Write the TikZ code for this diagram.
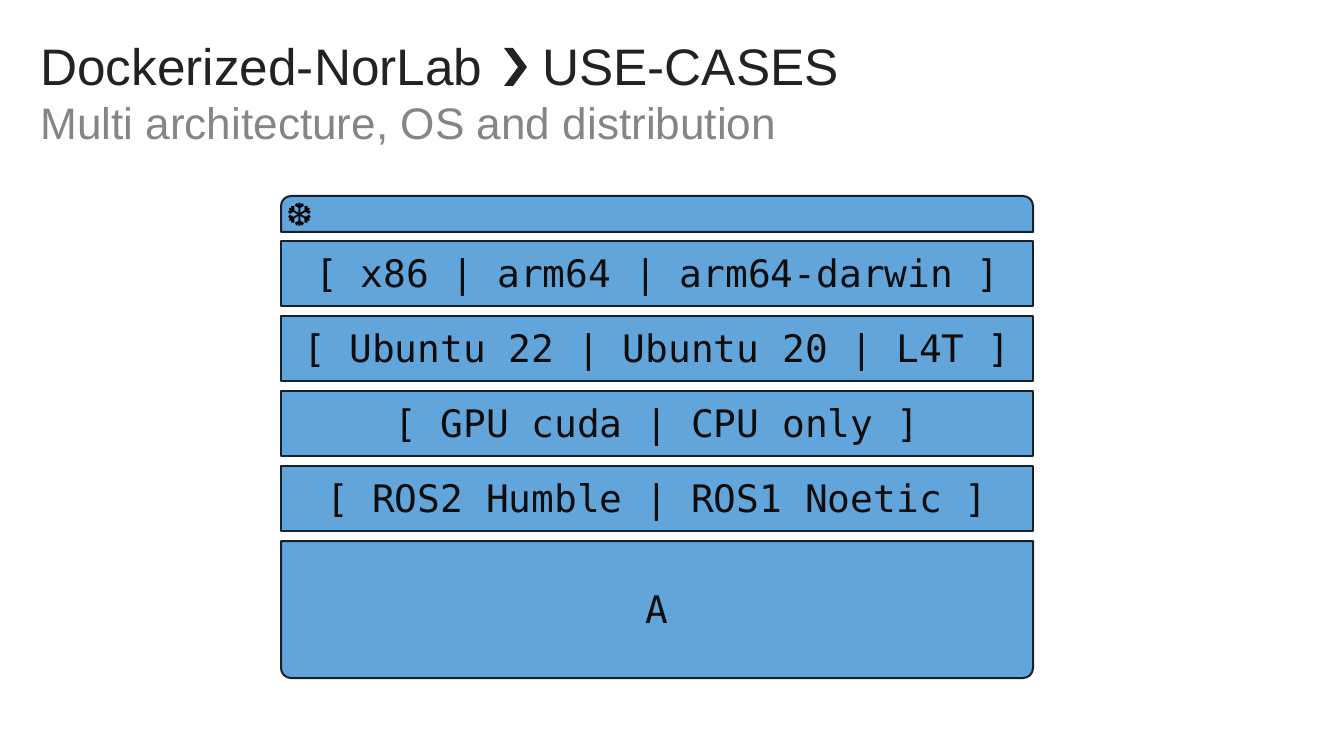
\documentclass[tikz,border=0pt]{standalone}
\usepackage{fontspec}
\setmainfont{Liberation Sans}
\newfontfamily\monof{DejaVu Sans Mono}
\newfontfamily\symf{DejaVu Sans}
\definecolor{layerblue}{HTML}{62A5DB}
\definecolor{edgeink}{HTML}{14202C}
\definecolor{titleink}{HTML}{222222}
\definecolor{subink}{HTML}{858585}
\tikzset{
  layer/.style={fill=layerblue,draw=edgeink,line width=1.5pt,line join=round},
  layertext/.style={inner sep=0pt,anchor=center,text=black!95,font=\monof\fontsize{28.4}{30}\selectfont},
  labeltext/.style={inner sep=0pt,anchor=base west}
}
\begin{document}
\begin{tikzpicture}[x=0.75pt,y=-0.75pt]
\useasboundingbox (0,0) rectangle (1330,748);
\node[labeltext,text=titleink,font=\fontsize{38.5}{40}\selectfont] (title) at (40,85.5) {Dockerized-NorLab};
\node[labeltext,text=titleink,font=\fontsize{38.5}{40}\selectfont] (cases) at (542,85.5) {USE-CASES};
\fill[titleink] (504,48) -- (513,48) -- (527,67) -- (513,86) -- (504,86) -- (518,67) -- cycle;
\node[labeltext,text=subink,font=\fontsize{33.1}{36}\selectfont] (sub) at (40,140) {Multi architecture, OS and distribution};
% top layer
\path[layer] (281,232) {[rounded corners=7.5pt] -- (281,196) -- (1033,196)} -- (1033,232) -- cycle;
\node[inner sep=0pt,text=black,font=\symf\fontsize{24}{25}\selectfont] (flake) at (300,214.5) {❆};
% middle layers
\path[layer] (281,241) rectangle (1033,306);
\node[layertext] (arch) at (657,277) {[ x86 | arm64 | arm64-darwin ]};
\path[layer] (281,316) rectangle (1033,381);
\node[layertext] (os) at (657,352) {[ Ubuntu 22 | Ubuntu 20 | L4T ]};
\path[layer] (281,391) rectangle (1033,456);
\node[layertext] (gpu) at (657,427) {[ GPU cuda | CPU only ]};
\path[layer] (281,466) rectangle (1033,531);
\node[layertext] (ros) at (657,502) {[ ROS2 Humble | ROS1 Noetic ]};
% bottom layer
\path[layer] (281,541) -- (1033,541) {[rounded corners=7.5pt] -- (1033,678) -- (281,678)} -- cycle;
\node[layertext] (app) at (657,610) {A};
\end{tikzpicture}
\end{document}
